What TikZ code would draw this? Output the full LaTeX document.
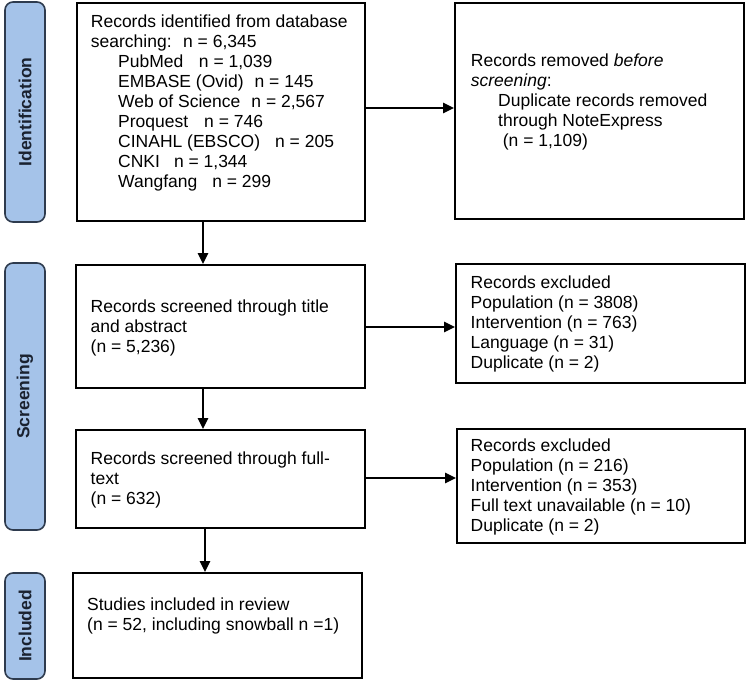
\documentclass[tikz,border=0pt]{standalone}
\usepackage{fontspec}
\setmainfont{Liberation Sans}
\usetikzlibrary{arrows.meta}
\definecolor{lblfill}{HTML}{A5C3E9}
\definecolor{lbldraw}{HTML}{2E3B4E}
\definecolor{lbltext}{HTML}{1A2230}
\begin{document}
\begin{tikzpicture}[x=1pt,y=-1pt,
  box/.style={draw=black,line width=1.8pt,anchor=north west,inner sep=0pt},
  txt/.style={anchor=north west,inner sep=0pt,align=left,font=\fontsize{17.5}{20}\selectfont},
  phase/.style={draw=lbldraw,fill=lblfill,line width=1.6pt,rounded corners=8pt,rotate=90,
    minimum height=40pt,inner sep=0pt,text=lbltext,font=\fontsize{17.5}{20}\selectfont\bfseries},
  arr/.style={line width=1.3pt,-{Triangle[length=11pt,width=10.5pt]}}]
\useasboundingbox (0,0) rectangle (748,681);
% phase labels
\node[phase,minimum width=220pt] (pid) at (25,112) {Identification};
\node[phase,minimum width=267pt] (psc) at (25,396.5) {Screening};
\node[phase,minimum width=106pt] (pin) at (25,626) {Included};
% boxes
\node[box,minimum width=288pt,minimum height=218pt] (b1) at (76,2) {};
\node[box,minimum width=289pt,minimum height=216pt] (b2) at (454,2) {};
\node[box,minimum width=289pt,minimum height=123pt] (b3) at (75,264) {};
\node[box,minimum width=289pt,minimum height=119pt] (b4) at (455,263) {};
\node[box,minimum width=289pt,minimum height=98pt] (b5) at (75,429) {};
\node[box,minimum width=288pt,minimum height=114pt] (b6) at (456,428) {};
\node[box,minimum width=289pt,minimum height=105pt] (b7) at (72,572) {};
% texts
\node[txt] (t1) at (90.7,13) {\strut Records identified from database\\
searching:\hspace{5pt} n = 6,345\\
\hspace*{27.3pt}PubMed\hspace{15.6pt}n = 1,039\\
\hspace*{27.3pt}EMBASE (Ovid)\hspace{11pt}n = 145\\
\hspace*{27.3pt}Web of Science\hspace{11pt}n = 2,567\\
\hspace*{27.3pt}Proquest\hspace{16pt}n = 746\\
\hspace*{27.3pt}CINAHL (EBSCO)\hspace{15pt}n = 205\\
\hspace*{27.3pt}CNKI\hspace{14pt}n = 1,344\\
\hspace*{27.3pt}Wangfang\hspace{15pt}n = 299};
\node[txt] (t2) at (470.7,52) {\strut Records removed \textit{before}\\
\textit{screening}:\\
\hspace*{27.3pt}Duplicate records removed\\
\hspace*{27.3pt}through NoteExpress\\
\hspace*{32pt}(n = 1,109)};
\node[txt] (t3) at (90.5,298) {\strut Records screened through title\\
and abstract\\
(n = 5,236)};
\node[txt] (t4) at (470.5,274) {\strut Records excluded\\
Population (n = 3808)\\
Intervention (n = 763)\\
Language (n = 31)\\
Duplicate (n = 2)};
\node[txt] (t5) at (90.5,450) {\strut Records screened through full-\\
text\\
(n = 632)};
\node[txt] (t6) at (470.5,437) {\strut Records excluded\\
Population (n = 216)\\
Intervention (n = 353)\\
Full text unavailable (n = 10)\\
Duplicate (n = 2)};
\node[txt] (t7) at (87,596) {\strut Studies included in review\\
(n = 52, including snowball n =1)};
% connector guides
\coordinate (v1) at (203,0);
\coordinate (v2) at (203,0);
\coordinate (v3) at (205,0);
\coordinate (h1) at (0,108);
\coordinate (h2) at (0,327);
\coordinate (h3) at (0,478);
% connectors
\draw[arr] (b1.south -| v1) -- (b3.north -| v1);
\draw[arr] (b3.south -| v2) -- (b5.north -| v2);
\draw[arr] (b5.south -| v3) -- (b7.north -| v3);
\draw[arr] (b1.east |- h1) -- (b2.west |- h1);
\draw[arr] (b3.east |- h2) -- (b4.west |- h2);
\draw[arr] (b5.east |- h3) -- (b6.west |- h3);
\end{tikzpicture}
\end{document}
